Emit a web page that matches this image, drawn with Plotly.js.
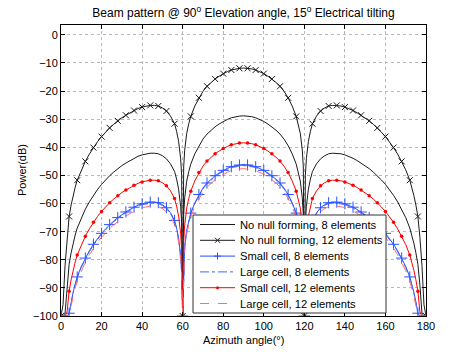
<!DOCTYPE html>
<html>
<head>
<meta charset="utf-8">
<script src="https://cdn.plot.ly/plotly-3.0.1.min.js"></script>
<style>
  html, body { margin: 0; padding: 0; background: #fff; }
  #plot { width: 472px; height: 355px; }
</style>
</head>
<body>
<div id="plot"></div>
<script>
// Azimuth sample points (deg), finer near the nulls at 0, 60, 120, 180
const azimuth = [
    0, 1, 2, 3, 4, 5, 6, 7, 8, 10, 12, 14, 16, 18, 20, 22, 24, 26, 28, 30, 32, 34, 36, 38, 40, 42, 44, 46, 48, 50, 52, 54, 56, 57, 58, 59, 59.5,
    60,
    60.5, 61, 62, 63, 64, 66, 68, 70, 72, 74, 76, 78, 80, 82, 84, 86, 88, 90, 92, 94, 96, 98, 100, 102, 104, 106, 108, 110, 112, 114, 116, 117, 118, 119, 119.5,
    120,
    120.5, 121, 122, 123, 124, 126, 128, 130, 132, 134, 136, 138, 140, 142, 144, 146, 148, 150, 152, 154, 156, 158, 160, 162, 164, 166, 168, 170, 172, 173, 174, 175, 176, 177, 178, 179, 180
];

// Power (dB)
const noNull8 = [
    -100, -100, -99, -89, -81.6, -77.5, -74.1, -71.2, -68.7, -65.0, -62.0, -59.4, -57.1, -55.0, -53.2, -51.6, -50.1, -48.8, -47.6, -46.5, -45.6, -44.7, -43.9, -43.2, -42.7, -42.3, -42.1, -42.1, -42.3, -43.0, -44.1, -45.9, -48.6, -51.3, -54.9, -61.0, -67.0,
    -100,
    -64.0, -58.0, -52.0, -48.6, -46.0, -42.3, -39.4, -37.1, -35.3, -33.9, -32.7, -31.7, -30.8, -30.1, -29.5, -29.1, -28.9, -28.8, -28.9, -29.1, -29.5, -30.1, -30.8, -31.7, -32.7, -33.9, -35.3, -37.1, -39.4, -42.3, -46.0, -48.6, -52.0, -58.0, -64.0,
    -100,
    -67.0, -61.0, -54.9, -51.3, -48.6, -45.9, -44.1, -43.0, -42.3, -42.1, -42.1, -42.3, -42.7, -43.2, -43.9, -44.7, -45.6, -46.5, -47.6, -48.8, -50.1, -51.6, -53.2, -55.0, -57.1, -59.4, -62.0, -65.0, -68.7, -71.2, -74.1, -77.5, -81.6, -89, -99, -100, -100
];
const noNull12 = [
    -100, -96, -82, -72, -64.6, -60.5, -57.1, -54.2, -51.7, -48.0, -45.0, -42.4, -40.1, -38.0, -36.2, -34.6, -33.1, -31.8, -30.6, -29.5, -28.6, -27.7, -26.9, -26.2, -25.7, -25.3, -25.1, -25.1, -25.3, -26.0, -27.1, -28.9, -31.6, -34.3, -37.9, -44.0, -50.0,
    -100,
    -47.0, -41.0, -35.0, -31.6, -29.0, -25.3, -22.4, -20.1, -18.3, -16.9, -15.7, -14.7, -13.8, -13.1, -12.5, -12.1, -11.9, -11.8, -11.9, -12.1, -12.5, -13.1, -13.8, -14.7, -15.7, -16.9, -18.3, -20.1, -22.4, -25.3, -29.0, -31.6, -35.0, -41.0, -47.0,
    -100,
    -50.0, -44.0, -37.9, -34.3, -31.6, -28.9, -27.1, -26.0, -25.3, -25.1, -25.1, -25.3, -25.7, -26.2, -26.9, -27.7, -28.6, -29.5, -30.6, -31.8, -33.1, -34.6, -36.2, -38.0, -40.1, -42.4, -45.0, -48.0, -51.7, -54.2, -57.1, -60.5, -64.6, -72, -82, -96, -100
];
const smallCell8 = [
    -100, -100, -100, -100, -99.0, -94.9, -91.5, -88.6, -86.1, -82.4, -79.4, -76.8, -74.5, -72.4, -70.6, -69.0, -67.5, -66.2, -65.0, -63.9, -63.0, -62.1, -61.3, -60.6, -60.1, -59.7, -59.5, -59.5, -59.7, -60.4, -61.5, -63.3, -66.0, -68.7, -72.3, -78.4, -84.4,
    -100,
    -81.4, -75.4, -69.4, -66.0, -63.4, -59.7, -56.8, -54.5, -52.7, -51.3, -50.1, -49.1, -48.2, -47.5, -46.9, -46.5, -46.3, -46.2, -46.3, -46.5, -46.9, -47.5, -48.2, -49.1, -50.1, -51.3, -52.7, -54.5, -56.8, -59.7, -63.4, -66.0, -69.4, -75.4, -81.4,
    -100,
    -84.4, -78.4, -72.3, -68.7, -66.0, -63.3, -61.5, -60.4, -59.7, -59.5, -59.5, -59.7, -60.1, -60.6, -61.3, -62.1, -63.0, -63.9, -65.0, -66.2, -67.5, -69.0, -70.6, -72.4, -74.5, -76.8, -79.4, -82.4, -86.1, -88.6, -91.5, -94.9, -99.0, -100, -100, -100, -100
];
const largeCell8 = [
    -100, -100, -100, -100, -99.3, -95.2, -91.8, -88.9, -86.4, -82.7, -79.7, -77.1, -74.8, -72.7, -70.9, -69.3, -67.8, -66.5, -65.3, -64.2, -63.3, -62.4, -61.6, -60.9, -60.4, -60.0, -59.8, -59.8, -60.0, -60.7, -61.8, -63.6, -66.3, -69.0, -72.6, -78.7, -84.7,
    -100,
    -81.7, -75.7, -69.7, -66.3, -63.7, -60.0, -57.1, -54.8, -53.0, -51.6, -50.4, -49.4, -48.5, -47.8, -47.2, -46.8, -46.6, -46.5, -46.6, -46.8, -47.2, -47.8, -48.5, -49.4, -50.4, -51.6, -53.0, -54.8, -57.1, -60.0, -63.7, -66.3, -69.7, -75.7, -81.7,
    -100,
    -84.7, -78.7, -72.6, -69.0, -66.3, -63.6, -61.8, -60.7, -60.0, -59.8, -59.8, -60.0, -60.4, -60.9, -61.6, -62.4, -63.3, -64.2, -65.3, -66.5, -67.8, -69.3, -70.9, -72.7, -74.8, -77.1, -79.7, -82.7, -86.4, -88.9, -91.8, -95.2, -99.3, -100, -100, -100, -100
];
const smallCell12 = [
    -100, -100, -100, -98.6, -91.2, -87.1, -83.7, -80.8, -78.3, -74.6, -71.6, -69.0, -66.7, -64.6, -62.8, -61.2, -59.7, -58.4, -57.2, -56.1, -55.2, -54.3, -53.5, -52.8, -52.3, -51.9, -51.7, -51.7, -51.9, -52.6, -53.7, -55.5, -58.2, -60.9, -64.5, -70.6, -76.6,
    -100,
    -73.6, -67.6, -61.6, -58.2, -55.6, -51.9, -49.0, -46.7, -44.9, -43.5, -42.3, -41.3, -40.4, -39.7, -39.1, -38.7, -38.5, -38.4, -38.5, -38.7, -39.1, -39.7, -40.4, -41.3, -42.3, -43.5, -44.9, -46.7, -49.0, -51.9, -55.6, -58.2, -61.6, -67.6, -73.6,
    -100,
    -76.6, -70.6, -64.5, -60.9, -58.2, -55.5, -53.7, -52.6, -51.9, -51.7, -51.7, -51.9, -52.3, -52.8, -53.5, -54.3, -55.2, -56.1, -57.2, -58.4, -59.7, -61.2, -62.8, -64.6, -66.7, -69.0, -71.6, -74.6, -78.3, -80.8, -83.7, -87.1, -91.2, -98.6, -100, -100, -100
];
const largeCell12 = [
    -100, -100, -100, -100, -100, -96.3, -92.9, -90.0, -87.5, -83.8, -80.8, -78.2, -75.9, -73.8, -72.0, -70.4, -68.9, -67.6, -66.4, -65.3, -64.4, -63.5, -62.7, -62.0, -61.5, -61.1, -60.9, -60.9, -61.1, -61.8, -62.9, -64.7, -67.4, -70.1, -73.7, -79.8, -85.8,
    -100,
    -82.8, -76.8, -70.8, -67.4, -64.8, -61.1, -58.2, -55.9, -54.1, -52.7, -51.5, -50.5, -49.6, -48.9, -48.3, -47.9, -47.7, -47.6, -47.7, -47.9, -48.3, -48.9, -49.6, -50.5, -51.5, -52.7, -54.1, -55.9, -58.2, -61.1, -64.8, -67.4, -70.8, -76.8, -82.8,
    -100,
    -85.8, -79.8, -73.7, -70.1, -67.4, -64.7, -62.9, -61.8, -61.1, -60.9, -60.9, -61.1, -61.5, -62.0, -62.7, -63.5, -64.4, -65.3, -66.4, -67.6, -68.9, -70.4, -72.0, -73.8, -75.9, -78.2, -80.8, -83.8, -87.5, -90.0, -92.9, -96.3, -100, -100, -100, -100, -100
];

const seriesNames = [
    'No null forming, 8 elements',
    'No null forming, 12 elements',
    'Small cell, 8 elements',
    'Large cell, 8 elements',
    'Small cell, 12 elements',
    'Large cell, 12 elements'
];
const xTicks = [0, 20, 40, 60, 80, 100, 120, 140, 160, 180];
const yTicks = [-100, -90, -80, -70, -60, -50, -40, -30, -20, -10, 0];

// Styles (MATLAB-like line specs)
const styles = [
    { color: '#1a1a1a', dash: 'solid', symbol: null },
    { color: '#1a1a1a', dash: 'solid', symbol: 'x-thin-open', size: 6 },
    { color: 'rgb(40,80,255)', dash: 'solid', symbol: 'cross-thin-open', size: 8 },
    { color: 'rgb(70,100,255)', dash: 'dashdot', symbol: null },
    { color: 'rgb(255,0,0)', dash: 'solid', symbol: 'circle', size: 3.5 },
    { color: 'rgb(255,110,110)', dash: 'dash', symbol: null }
];

// plot area in pixels (used to place the hand-drawn legend and axis titles)
const PL = 61, PR = 426, PT = 25, PB = 316;
const px = (x) => (x - PL) / (PR - PL);
const py = (y) => (PB - y) / (PB - PT);

/**
 * Builds the line and marker traces for one series.
 * Markers sit on every 4th degree, like the MATLAB plot.
 */
function buildTraces(y, st) {
    const out = [{
        x: azimuth, y: y, type: 'scatter', mode: 'lines', showlegend: false,
        line: { color: st.color, width: 1, dash: st.dash }
    }];
    if (st.symbol) {
        const mx = [], my = [];
        azimuth.forEach((a, i) => { if (a % 4 === 0) { mx.push(a); my.push(y[i]); } });
        out.push({
            x: mx, y: my, type: 'scatter', mode: 'markers', showlegend: false,
            marker: {
                symbol: st.symbol, size: st.size, color: st.color,
                line: { color: st.color, width: st.symbol === 'circle' ? 0 : 1 }
            }
        });
    }
    return out;
}

/**
 * Legend drawn by hand: MATLAB rows are tighter than Plotly's minimum item height.
 */
function buildLegend() {
    const shapes = [{
        type: 'rect', xref: 'paper', yref: 'paper', layer: 'above',
        x0: px(193), x1: px(386), y0: py(313), y1: py(215),
        fillcolor: '#fff', line: { color: '#333', width: 1 }
    }];
    const annotations = [];
    styles.forEach((st, i) => {
        const yc = 224.5 + i * 15.8;
        shapes.push({
            type: 'line', xref: 'paper', yref: 'paper', layer: 'above',
            x0: px(200), x1: px(235), y0: py(yc), y1: py(yc),
            line: { color: st.color, width: 1, dash: st.dash }
        });
        const cx = 217.5;
        if (st.symbol === 'x-thin-open' || st.symbol === 'cross-thin-open') {
            const h = st.symbol === 'x-thin-open' ? 2.5 : 3.5;
            const path = st.symbol === 'x-thin-open'
                ? `M ${px(cx - h)},${py(yc - h)} L ${px(cx + h)},${py(yc + h)} M ${px(cx - h)},${py(yc + h)} L ${px(cx + h)},${py(yc - h)}`
                : `M ${px(cx - h)},${py(yc)} L ${px(cx + h)},${py(yc)} M ${px(cx)},${py(yc - h)} L ${px(cx)},${py(yc + h)}`;
            shapes.push({ type: 'path', xref: 'paper', yref: 'paper', layer: 'above', path: path, line: { color: st.color, width: 1 } });
        } else if (st.symbol === 'circle') {
            shapes.push({
                type: 'circle', xref: 'paper', yref: 'paper', layer: 'above',
                x0: px(cx - 1.5), x1: px(cx + 1.5), y0: py(yc + 1.5), y1: py(yc - 1.5),
                fillcolor: st.color, line: { width: 0 }
            });
        }
        annotations.push({
            xref: 'paper', yref: 'paper', x: px(237.5), y: py(yc), xanchor: 'left', yanchor: 'middle',
            text: seriesNames[i], showarrow: false, font: Object.assign({}, font, { size: 11.2 })
        });
    });
    return { shapes, annotations };
}

const font = { family: 'Liberation Sans, Arial, Helvetica, sans-serif', size: 11, color: '#000' };

const allY = [noNull8, noNull12, smallCell8, largeCell8, smallCell12, largeCell12];
let data = [];
allY.forEach((y, k) => { data = data.concat(buildTraces(y, styles[k])); });

const axisCommon = {
    showline: true, linecolor: '#000', linewidth: 1, mirror: 'ticks',
    ticks: 'inside', ticklen: 4, tickcolor: '#000', tickwidth: 1,
    showgrid: true, gridcolor: '#b8b8b8', griddash: 'dot', gridwidth: 1,
    zeroline: false, tickfont: font
};

const legend = buildLegend();
// axis titles placed where MATLAB puts them
legend.annotations.push(
    { xref: 'paper', yref: 'paper', x: 0.5, y: py(339.5), xanchor: 'center', yanchor: 'middle',
      text: 'Azimuth angle(°)', showarrow: false, font: font },
    { xref: 'paper', yref: 'paper', x: px(21.5), y: 0.5, xanchor: 'center', yanchor: 'middle',
      text: 'Power(dB)', textangle: -90, showarrow: false, font: font }
);

const layout = {
    width: 472, height: 355,
    margin: { l: PL, r: 472 - PR, t: PT, b: 355 - PB, pad: 0 },
    paper_bgcolor: '#fff', plot_bgcolor: '#fff',
    font: font,
    title: {
        text: 'Beam pattern @ 90<sup>o</sup> Elevation angle, 15<sup>o</sup> Electrical tilting',
        font: Object.assign({}, font, { size: 12 }), x: 0.5, xref: 'paper', y: 0.965, yref: 'container', yanchor: 'middle'
    },
    xaxis: Object.assign({}, axisCommon, { range: [0, 180], tickvals: xTicks }),
    yaxis: Object.assign({}, axisCommon, { range: [-100, 3.5], tickvals: yTicks }),
    showlegend: false,
    shapes: legend.shapes,
    annotations: legend.annotations
};

Plotly.newPlot('plot', data, layout, { staticPlot: true, displaylogo: false });
</script>
</body>
</html>
